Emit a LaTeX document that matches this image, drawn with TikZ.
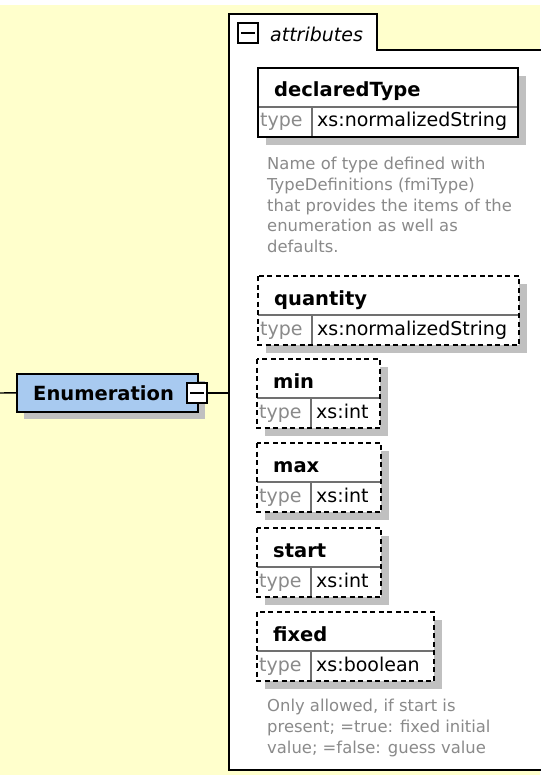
\documentclass[tikz,border=0pt]{standalone}
\usepackage{fontspec}
\setmainfont{DejaVu Sans}
\definecolor{bgy}{HTML}{FFFFCC}
\definecolor{shad}{HTML}{C0C0C0}
\definecolor{enumblue}{HTML}{A8CAF0}
\definecolor{descc}{HTML}{8A8A8A}
\definecolor{sepc}{HTML}{707070}
\tikzset{
  cell/.style={inner sep=0pt, outer sep=0pt, fill=white},
  sepline/.style={draw=sepc, line width=1.2pt},
  solidborder/.style={draw=black, line width=1.6pt},
  dashborder/.style={draw=black, line width=1.6pt, dash pattern=on 5pt off 3.5pt},
  namef/.style={inner sep=0pt, font=\fontsize{19.5}{23}\selectfont\bfseries},
  typef/.style={inner sep=0pt, text=descc, font=\fontsize{19}{23}\selectfont},
  valf/.style={inner sep=0pt, font=\fontsize{19}{23}\selectfont},
  descf/.style={inner sep=0pt, text=descc, font=\fontsize{16.4}{20}\selectfont},
  togglebox/.style={draw=black, line width=1.4pt, fill=white, minimum size=20pt, inner sep=0pt},
  conn/.style={draw=black, line width=1.4pt}
}
\newcommand{\xattr}[7]{%
  \fill[shad] ({#2+8},{#3+8}) rectangle ({#2+#4+8},{#3+77});
  \node[cell, minimum width=#4pt, minimum height=39pt, anchor=north west] (#1) at (#2,#3) {};
  \node[cell, minimum width=54pt, minimum height=30pt, anchor=north west] (#1-t) at (#1.south west) {};
  \node[cell, minimum width=#4pt-54pt, minimum height=30pt, anchor=north west] (#1-v) at (#1-t.north east) {};
  \draw[sepline] (#1.south west) -- (#1.south east);
  \draw[sepline] (#1-t.north east) -- (#1-t.south east);
  \draw[#7] (#1.north west) rectangle (#1-v.south east);
  \node[namef, anchor=base west] (#1-n) at ({#2+16},{#3+29}) {#5};
  \node[typef, anchor=base west] (#1-tl) at ({#2+2},{#3+59}) {type};
  \node[valf, anchor=base west] (#1-vl) at ({#2+59},{#3+59}) {#6};
}
\begin{document}
\begin{tikzpicture}[x=1pt,y=-1pt]
\useasboundingbox (0,0) rectangle (540,775);
\fill[white] (0,0) rectangle (540,775);
\fill[bgy] (0,5) rectangle (540,775);
% attributes panel
\filldraw[fill=white, draw=black, line width=1.5pt] (541,50) -- (377,50) -- (377,14) -- (229,14) -- (229,770) -- (541,770);
\node[togglebox] (tabtog) at (248,33) {};
\draw[line width=1.4pt] ([xshift=4pt]tabtog.west) -- ([xshift=-4pt]tabtog.east);
\node[inner sep=0pt, anchor=base west, font=\fontsize{19}{23}\selectfont\itshape] (tabtxt) at (270,42) {attributes};
% Enumeration element
\coordinate (lineL) at (0,393);
\coordinate (panelL) at (229,393);
\fill[shad] (24,381) rectangle (205,419);
\node[draw=black, line width=1.6pt, fill=enumblue, minimum width=181pt, minimum height=38pt, inner sep=0pt, anchor=north west] (enum) at (16,373) {};
\node[namef, anchor=base west] (enumtxt) at (33,400) {Enumeration};
\node[togglebox] (enumtog) at (197,393) {};
\draw[line width=1.4pt] ([xshift=4pt]enumtog.west) -- ([xshift=-4pt]enumtog.east);
\draw[conn] (lineL) -- (enum.west);
\draw[conn] (enumtog.east) -- (panelL);
% attributes
\xattr{dt}{258}{68}{260}{declaredType}{xs:normalizedString}{solidborder}
\node[descf, anchor=base west] (d1a) at (267,170) {Name of type defined with};
\node[descf, anchor=base west] (d1b) at (267,191) {TypeDefinitions (fmiType)};
\node[descf, anchor=base west] (d1c) at (267,212) {that provides the items of the};
\node[descf, anchor=base west] (d1d) at (267,232) {enumeration as well as};
\node[descf, anchor=base west] (d1e) at (267,253) {defaults.};
\xattr{qty}{258}{276}{261}{quantity}{xs:normalizedString}{dashborder}
\xattr{mn}{257}{359}{123}{min}{xs:int}{dashborder}
\xattr{mx}{257}{443}{124}{max}{xs:int}{dashborder}
\xattr{st}{257}{528}{124}{start}{xs:int}{dashborder}
\xattr{fx}{257}{612}{177}{fixed}{xs:boolean}{dashborder}
\node[descf, anchor=base west] (d2a) at (267,711) {Only allowed, if start is};
\node[descf, anchor=base west] (d2b) at (267,732) {present; =true: fixed initial};
\node[descf, anchor=base west] (d2c) at (267,753) {value; =false: guess value};
\end{tikzpicture}
\end{document}
